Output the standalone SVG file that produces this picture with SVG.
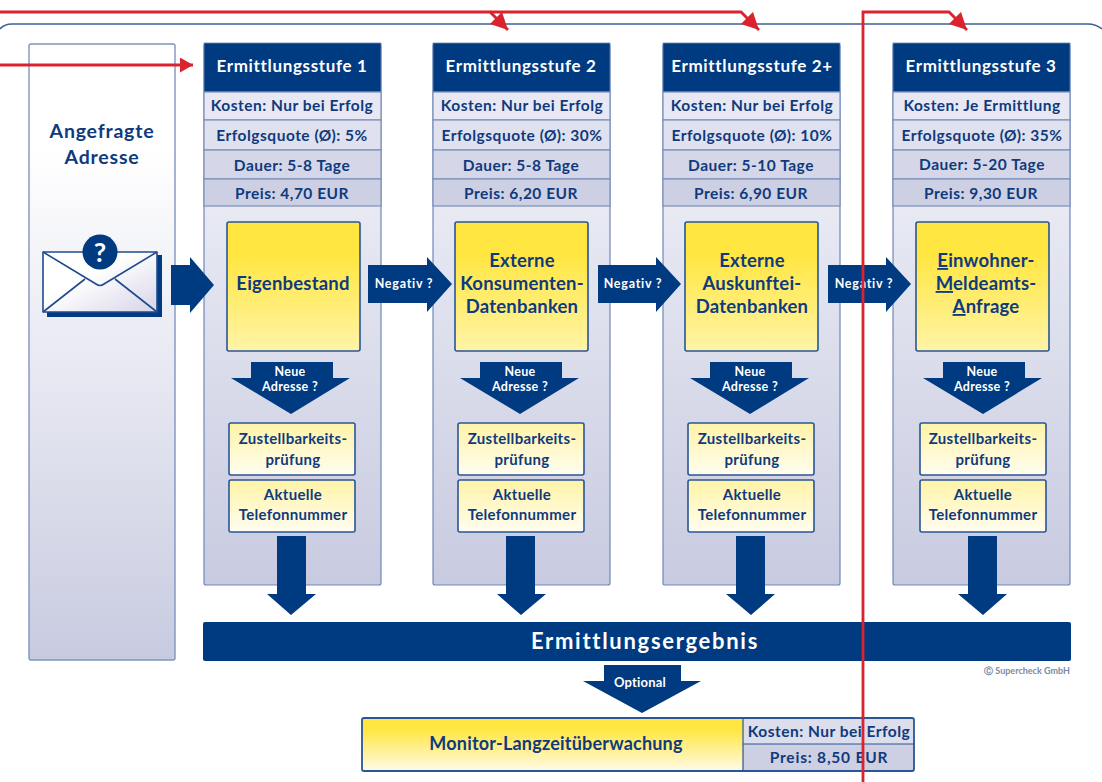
<svg xmlns="http://www.w3.org/2000/svg" width="1102" height="782" viewBox="0 0 1102 782">
<style>
text{font-family:"Lato","Liberation Sans",sans-serif;font-weight:700;text-anchor:middle;fill:#0f3a7d}
.hd{font-size:17px;letter-spacing:.65px;fill:#fff}
.row{font-size:15.500px;letter-spacing:.5px}
.big{font-size:18.500px;letter-spacing:.2px}
.sm{font-size:15px;letter-spacing:.3px}
.neu{font-size:12.500px;letter-spacing:.3px;fill:#fff}
.neg{font-size:12.500px;letter-spacing:.75px;fill:#fff}
.col{fill:url(#body);stroke:#6f88b8;stroke-width:1.2}
.head{fill:#003a80;stroke:#6f88b8;stroke-width:.8}
.r{stroke:#7a8fba;stroke-width:1.2}
.r1{fill:#e7e8f3}.r2{fill:#e0e1ee}.r3{fill:#d5d7e8}.r4{fill:#cdd0e3}
.y{fill:url(#yel);stroke:#2a5596;stroke-width:1.6}
.ys{fill:url(#yels);stroke:#2a5596;stroke-width:1.6}
.ba{fill:#003a80}
.red{fill:none;stroke:#d9232e;stroke-width:2.800;marker-end:url(#rh)}
.red2{fill:none;stroke:#d9232e;stroke-width:2.800;marker-end:url(#rh2)}
</style>
<defs>
<linearGradient id="body" x1="0" y1="0" x2="0" y2="1"><stop offset="0" stop-color="#f5f6fb"/><stop offset="1" stop-color="#c8cbe0"/></linearGradient>
<linearGradient id="left" x1="0" y1="0" x2="0" y2="1"><stop offset="0" stop-color="#fff"/><stop offset=".17" stop-color="#fff"/><stop offset="1" stop-color="#c8cbe0"/></linearGradient>
<linearGradient id="yel" x1="0" y1="0" x2="0" y2="1"><stop offset="0" stop-color="#ffe640"/><stop offset=".25" stop-color="#ffe640"/><stop offset="1" stop-color="#fff4a8"/></linearGradient>
<linearGradient id="yels" x1="0" y1="0" x2="0" y2="1"><stop offset="0" stop-color="#fff3a6"/><stop offset="1" stop-color="#fffdf0"/></linearGradient>
<linearGradient id="mon" x1="0" y1="0" x2="0" y2="1"><stop offset="0" stop-color="#ffe640"/><stop offset=".2" stop-color="#ffe640"/><stop offset="1" stop-color="#fffbe6"/></linearGradient>
<linearGradient id="env" x1="0" y1="0" x2="1" y2="1"><stop offset=".4" stop-color="#fff"/><stop offset="1" stop-color="#d6d4e8"/></linearGradient>
<marker id="rh" markerUnits="userSpaceOnUse" markerWidth="14" markerHeight="16" refX="13" refY="7.500" orient="auto"><path d="M0 0L13 7.500L0 15Z" fill="#d9232e"/></marker>
<marker id="rh2" markerUnits="userSpaceOnUse" markerWidth="18" markerHeight="18" refX="17" refY="8.500" orient="auto"><path d="M0 0L17 8.500L0 17Z" fill="#d9232e"/></marker>
</defs>

<path id="frame" d="M0 29Q4 24 12 24L1088 24Q1096 24 1102 29" fill="none" stroke="#3f5f99" stroke-width="1.600"/>

<g id="input">
<rect x="29" y="44" width="146" height="616" rx="2" fill="url(#left)" stroke="#7f95bf" stroke-width="1.400"/>
<text x="102" y="138" font-size="19.500" letter-spacing=".8">Angefragte</text>
<text x="102" y="164" font-size="19.500" letter-spacing=".8">Adresse</text>
<path d="M47 255H162V317H47Z" fill="#003a80"/>
<path d="M43 252H157V312H43Z" fill="url(#env)" stroke="#1f4b8e" stroke-width="1.600" stroke-linejoin="round"/>
<path d="M43 252L96 284Q100 287 104 284L157 252M43 312L85 279M157 312L115 279" fill="none" stroke="#1f4b8e" stroke-width="1.600"/>
<circle cx="100" cy="252" r="17.500" fill="#003a80"/>
<text x="100" y="262" font-size="27" style="fill:#fff">?</text>
</g>

<g id="stufe1">
<rect class="col" x="204" y="44" width="177" height="541" rx="2"/>
<rect class="head" x="204" y="43" width="177" height="49"/>
<rect class="r r1" x="204" y="92" width="177" height="28"/><rect class="r r2" x="204" y="120" width="177" height="30"/><rect class="r r3" x="204" y="150" width="177" height="29"/><rect class="r r4" x="204" y="179" width="177" height="27"/>
<text class="hd" x="292" y="72">Ermittlungsstufe 1</text>
<text class="row" x="292" y="111">Kosten: Nur bei Erfolg</text>
<text class="row" x="292" y="141">Erfolgsquote (Ø): 5%</text>
<text class="row" x="292" y="171">Dauer: 5-8 Tage</text>
<text class="row" x="292" y="199">Preis: 4,70 EUR</text>
<rect class="y" x="227" y="222" width="133" height="129" rx="2"/>
<text class="big" x="293" y="290">Eigenbestand</text>
<rect class="ys" x="229" y="423" width="126" height="52" rx="2"/>
<text class="sm" x="293" y="444">Zustellbarkeits-</text><text class="sm" x="293" y="465">prüfung</text>
<rect class="ys" x="229" y="480" width="126" height="52" rx="2"/>
<text class="sm" x="293" y="500">Aktuelle</text><text class="sm" x="293" y="520">Telefonnummer</text>
</g>

<g id="stufe2">
<rect class="col" x="433" y="44" width="177" height="541" rx="2"/>
<rect class="head" x="433" y="43" width="177" height="49"/>
<rect class="r r1" x="433" y="92" width="177" height="28"/><rect class="r r2" x="433" y="120" width="177" height="30"/><rect class="r r3" x="433" y="150" width="177" height="29"/><rect class="r r4" x="433" y="179" width="177" height="27"/>
<text class="hd" x="521" y="72">Ermittlungsstufe 2</text>
<text class="row" x="522" y="111">Kosten: Nur bei Erfolg</text>
<text class="row" x="522" y="141">Erfolgsquote (Ø): 30%</text>
<text class="row" x="521" y="171">Dauer: 5-8 Tage</text>
<text class="row" x="521" y="199">Preis: 6,20 EUR</text>
<rect class="y" x="455" y="222" width="133" height="129" rx="2"/>
<text class="big" x="522" y="267">Externe</text><text class="big" x="522" y="290">Konsumenten-</text><text class="big" x="522" y="313">Datenbanken</text>
<rect class="ys" x="458" y="423" width="126" height="52" rx="2"/>
<text class="sm" x="522" y="444">Zustellbarkeits-</text><text class="sm" x="522" y="465">prüfung</text>
<rect class="ys" x="458" y="480" width="126" height="52" rx="2"/>
<text class="sm" x="522" y="500">Aktuelle</text><text class="sm" x="522" y="520">Telefonnummer</text>
</g>

<g id="stufe2plus">
<rect class="col" x="663" y="44" width="177" height="541" rx="2"/>
<rect class="head" x="663" y="43" width="177" height="49"/>
<rect class="r r1" x="663" y="92" width="177" height="28"/><rect class="r r2" x="663" y="120" width="177" height="30"/><rect class="r r3" x="663" y="150" width="177" height="29"/><rect class="r r4" x="663" y="179" width="177" height="27"/>
<text class="hd" x="752" y="72">Ermittlungsstufe 2+</text>
<text class="row" x="752" y="111">Kosten: Nur bei Erfolg</text>
<text class="row" x="752" y="141">Erfolgsquote (Ø): 10%</text>
<text class="row" x="751" y="171">Dauer: 5-10 Tage</text>
<text class="row" x="751" y="199">Preis: 6,90 EUR</text>
<rect class="y" x="685" y="222" width="133" height="129" rx="2"/>
<text class="big" x="752" y="267">Externe</text><text class="big" x="752" y="290">Auskunftei-</text><text class="big" x="752" y="313">Datenbanken</text>
<rect class="ys" x="688" y="423" width="126" height="52" rx="2"/>
<text class="sm" x="752" y="444">Zustellbarkeits-</text><text class="sm" x="752" y="465">prüfung</text>
<rect class="ys" x="688" y="480" width="126" height="52" rx="2"/>
<text class="sm" x="752" y="500">Aktuelle</text><text class="sm" x="752" y="520">Telefonnummer</text>
</g>

<g id="stufe3">
<rect class="col" x="893" y="44" width="177" height="541" rx="2"/>
<rect class="head" x="893" y="43" width="177" height="49"/>
<rect class="r r1" x="893" y="92" width="177" height="28"/><rect class="r r2" x="893" y="120" width="177" height="30"/><rect class="r r3" x="893" y="150" width="177" height="29"/><rect class="r r4" x="893" y="179" width="177" height="27"/>
<text class="hd" x="981" y="72">Ermittlungsstufe 3</text>
<text class="row" x="982" y="111">Kosten: Je Ermittlung</text>
<text class="row" x="982" y="141">Erfolgsquote (Ø): 35%</text>
<text class="row" x="982" y="170">Dauer: 5-20 Tage</text>
<text class="row" x="981" y="199">Preis: 9,30 EUR</text>
<rect class="y" x="916" y="222" width="133" height="129" rx="2"/>
<text class="big" x="986" y="267"><tspan text-decoration="underline">E</tspan>inwohner-</text><text class="big" x="986" y="290"><tspan text-decoration="underline">M</tspan>eldeamts-</text><text class="big" x="986" y="313"><tspan text-decoration="underline">A</tspan>nfrage</text>
<rect class="ys" x="920" y="423" width="126" height="52" rx="2"/>
<text class="sm" x="983" y="444">Zustellbarkeits-</text><text class="sm" x="983" y="465">prüfung</text>
<rect class="ys" x="920" y="480" width="126" height="52" rx="2"/>
<text class="sm" x="983" y="500">Aktuelle</text><text class="sm" x="983" y="520">Telefonnummer</text>
</g>

<g id="ergebnis">
<rect x="203" y="622" width="868" height="39" rx="2" fill="#003a80"/>
<text x="645" y="649" font-size="22" letter-spacing="1.700" style="fill:#fff">Ermittlungsergebnis</text>
</g>
<text id="copyright" x="1027" y="674" font-size="9" style="fill:#7d88a0;font-weight:700">Ⓒ Supercheck GmbH</text>

<g id="monitor">
<rect x="362" y="718" width="381" height="53" fill="url(#mon)"/>
<rect x="743" y="718" width="171" height="26" fill="#dcdeec"/>
<rect x="743" y="744" width="171" height="27" fill="#cdd0e3"/>
<rect x="362" y="718" width="552" height="53" rx="2" fill="none" stroke="#2a5596" stroke-width="1.800"/>
<path d="M743 718V771M743 744H914" stroke="#2a5596" stroke-width="1.200" fill="none"/>
<text x="556" y="750" font-size="18" letter-spacing=".2">Monitor-Langzeitüberwachung</text>
<text x="829" y="737" font-size="15.500" letter-spacing=".5">Kosten: Nur bei Erfolg</text>
<text x="829" y="763" font-size="15.500" letter-spacing=".8">Preis: 8,50 EUR</text>
</g>

<g id="connectors">
<path class="ba" d="M171 265H190V257L214 285L190 313V305H171Z"/>
<path class="ba" d="M368 265H427V257L452 284L427 312V303H368Z"/>
<path class="ba" d="M598 265H656V257L681 284L656 312V303H598Z"/>
<path class="ba" d="M828 265H886V257L911 284L886 312V303H828Z"/>
<text class="neg" x="404" y="288">Negativ ?</text>
<text class="neg" x="633" y="288">Negativ ?</text>
<text class="neg" x="864" y="288">Negativ ?</text>
<path class="ba" d="M251 362H333V378H350L291 414L231 378H251Z"/>
<path class="ba" d="M480 362H562V378H579L520 414L460 378H480Z"/>
<path class="ba" d="M710 362H792V378H809L750 414L690 378H710Z"/>
<path class="ba" d="M943 362H1025V378H1042L983 414L923 378H943Z"/>
<g><text class="neu" x="290" y="376">Neue</text><text class="neu" x="290" y="391">Adresse ?</text>
<text class="neu" x="520" y="376">Neue</text><text class="neu" x="520" y="391">Adresse ?</text>
<text class="neu" x="750" y="376">Neue</text><text class="neu" x="750" y="391">Adresse ?</text>
<text class="neu" x="982" y="376">Neue</text><text class="neu" x="982" y="391">Adresse ?</text></g>
<path class="ba" d="M277 536H306V594H316L291 615L267 594H277Z"/>
<path class="ba" d="M506 536H535V594H546L521 615L497 594H506Z"/>
<path class="ba" d="M736 536H765V594H775L751 615L726 594H736Z"/>
<path class="ba" d="M968 536H997V594H1007L983 615L958 594H968Z"/>
<path class="ba" d="M604 665H681V681H701L642 713L583 681H604Z"/>
<text x="640" y="687" font-size="13" letter-spacing=".2" style="fill:#fff">Optional</text>
<path class="red" d="M0 65H193"/>
<path class="red2" d="M0 12H490L508 30"/>
<path class="red2" d="M490 12H741L759 30"/>
<path class="red2" d="M863 782V12H949L967 30"/>
</g>
</svg>
